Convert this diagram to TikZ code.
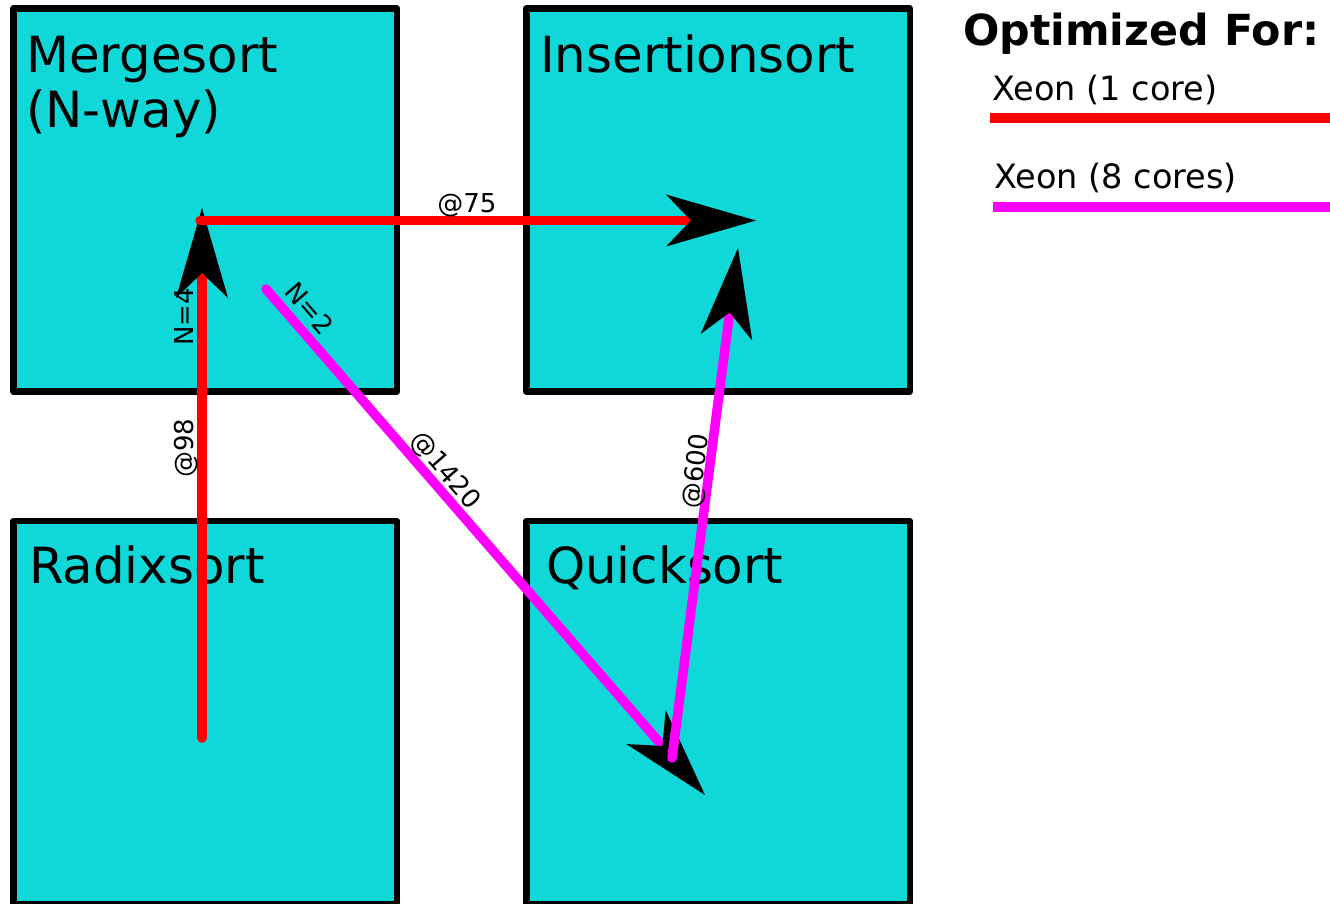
\documentclass[tikz,border=0pt]{standalone}
\usepackage{fontspec}
\setmainfont{DejaVu Sans}
\usetikzlibrary{arrows.meta}
\definecolor{boxcyan}{RGB}{17,216,216}
\definecolor{eightpink}{RGB}{255,0,255}
\definecolor{onered}{RGB}{255,0,0}
\begin{document}
\begin{tikzpicture}[x=1pt,y=-1pt,
  sortbox/.style={draw=black, line width=6.5pt, line join=round, fill=boxcyan,
    rectangle, inner sep=0pt, minimum width=383.5pt, minimum height=383pt},
  boxtitle/.style={font=\fontsize{49.8}{55}\selectfont, anchor=base west,
    inner sep=0pt, align=left},
  edgelabel/.style={font=\fontsize{26}{30}\selectfont, sloped, anchor=base,
    inner sep=0pt},
  bigtip/.style={-{Stealth[length=90pt, width=52pt, inset=25pt,
    line width=0pt, color=black, fill=black]}},
  onecore/.style={draw=onered, line width=9.5pt, line cap=round},
  eightcore/.style={draw=eightpink, line width=9.5pt, line cap=round},
  legendhead/.style={font=\bfseries\fontsize{42.8}{48}\selectfont,
    anchor=base west, inner sep=0pt},
  legendtext/.style={font=\fontsize{33.5}{38}\selectfont, anchor=base west,
    inner sep=0pt}
]
\useasboundingbox (0,0) rectangle (1330,903);

% the four algorithm boxes
\node[sortbox] (merge)  at (205.25,200)   {};
\node[sortbox] (insert) at (718,200)      {};
\node[sortbox] (radix)  at (205.25,712.5) {};
\node[sortbox] (quick)  at (718,712.5)    {};

% titles (a multi-line node sits on the baseline of its last line)
\node[boxtitle] (merge-title)  at (26,127)  {Mergesort\\(N-way)};
\node[boxtitle] (insert-title) at (540,72)  {Insertionsort};
\node[boxtitle] (radix-title)  at (29,583)  {Radixsort};
\node[boxtitle] (quick-title)  at (546,583) {Quicksort};

% connector end points inside the boxes
\coordinate (radix-out)   at (202,738);
\coordinate (merge-in)    at (202,208);
\coordinate (merge-out)   at (200,220.5);
\coordinate (insert-in)   at (756,220.5);
\coordinate (merge-out8)  at (266,289);
\coordinate (quick-in)    at (705,795);
\coordinate (quick-out)   at (672,758);
\coordinate (insert-in8)  at (738,248);

% Xeon, 1 core
\draw[onecore, bigtip] (radix-out) --
  node[edgelabel, pos=0.547, yshift=9pt] {@98}
  node[edgelabel, pos=0.795, yshift=9pt] {N=4} (merge-in);
\draw[onecore, bigtip] (merge-out) --
  node[edgelabel, pos=0.48, yshift=8.5pt] {@75} (insert-in);

% Xeon, 8 cores
\draw[eightcore, bigtip] (merge-out8) --
  node[edgelabel, pos=0.065, yshift=11pt] {N=2}
  node[edgelabel, pos=0.38, yshift=8.5pt] {@1420} (quick-in);
\draw[eightcore, bigtip] (quick-out) --
  node[edgelabel, pos=0.559, yshift=5pt] {@600} (insert-in8);

% legend
\node[legendhead] (legend-title) at (963,45) {Optimized For:};
\node[legendtext] (legend-one)   at (992,100) {Xeon (1 core)};
\node[legendtext] (legend-eight) at (994,188) {Xeon (8 cores)};
\draw[onered, line width=9.5pt] (990,118) -- (1335,118);
\draw[eightpink, line width=9.5pt] (993,207) -- (1335,207);
\end{tikzpicture}
\end{document}
